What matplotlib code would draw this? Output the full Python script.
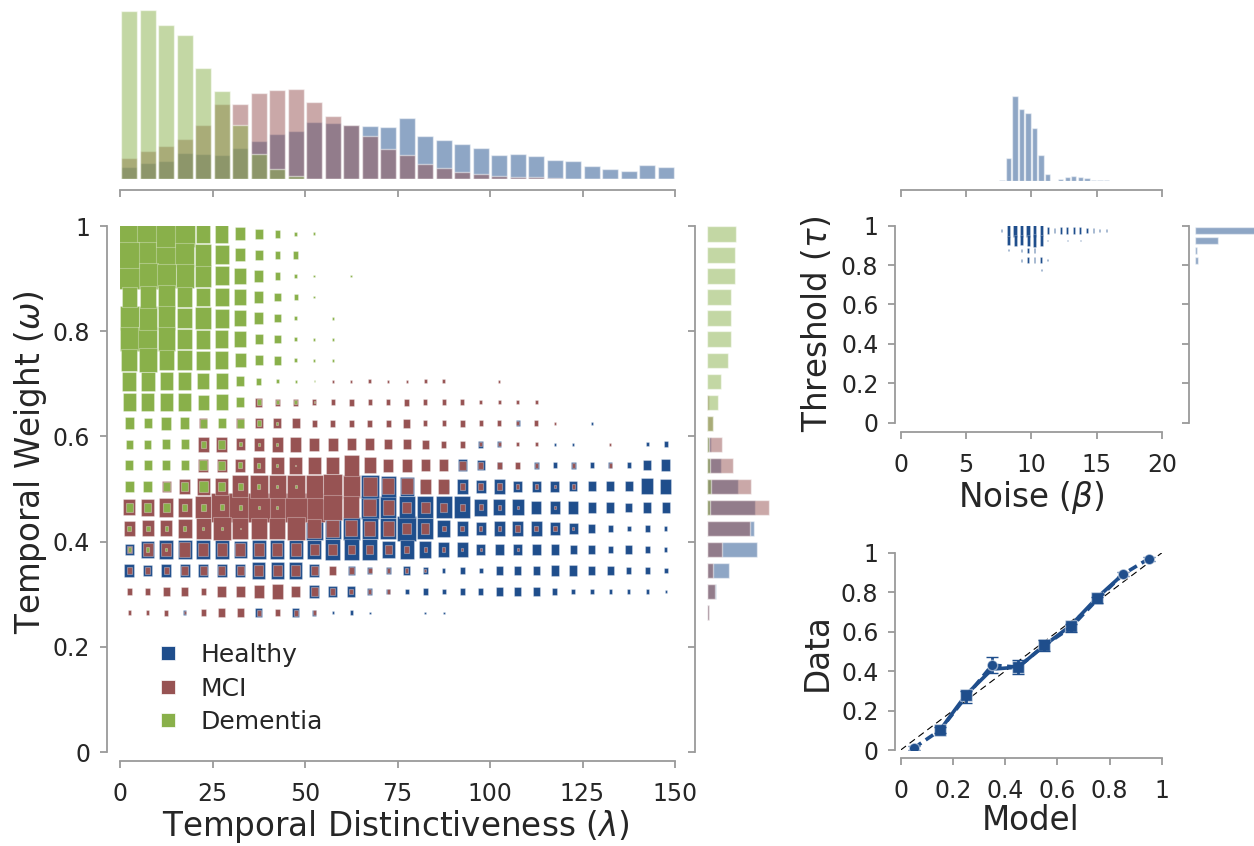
import numpy as np
import matplotlib
matplotlib.use('Agg')
import matplotlib.pyplot as plt
from matplotlib.lines import Line2D

# ------------------ data ------------------
# lambda bins (centres) and omega rows (top -> bottom)
lam_bins = np.arange(2.5, 150, 5)
omega_rows = [0.985, 0.945, 0.905, 0.865, 0.825, 0.785, 0.745, 0.705, 0.665, 0.625,
              0.585, 0.545, 0.505, 0.465, 0.425, 0.385, 0.345, 0.305, 0.265]

# cell sizes (marker width, px) per omega row, per lambda bin
dementia_sz = [
    [19,19,18,18,13,12,9,7,5,3,2] + [0]*19,
    [18,18,18,17,15,13,9,7,5,5] + [0]*20,
    [18,18,17,16,15,13,11,8,5,3,2,0,2] + [0]*17,
    [14,15,16,14,13,13,11,8,6,4,2] + [0]*19,
    [17,16,16,14,15,13,11,8,6,3,0,2] + [0]*18,
    [17,17,16,14,13,12,11,7,6,3,2,2] + [0]*18,
    [15,16,14,14,13,12,10,7,6,3,2,2] + [0]*18,
    [13,13,12,12,11,11,7,5,3,2,1] + [0]*19,
    [12,12,12,12,10,11,7,4,3,3,1] + [0]*19,
    [8,7,9,8,6,7,6,4,2] + [0]*21,
    [6,6,7,7,5,6,3,2,2] + [0]*21,
    [7,7,7,7,7,6,4,3,2,1] + [0]*20,
    [8,8,6,6,8,6,5,3,2,2] + [0]*20,
    [6,6,6,5,5,4,3,2,2] + [0]*21,
    [4,4,3,3,2,2,1] + [0]*23,
    [3,3,2] + [0]*27,
    [0]*30,
    [0]*30,
    [0]*30,
]
mci_sz = [
    [0]*30, [0]*30, [0]*30, [0]*30, [0]*30, [0]*30, [0]*30,
    [0]*11 + [2,2,3,2,2,3,3,0,0,2] + [0]*9,
    [0]*7 + [6,5,5,4,4,5,4,4,5,4,4,4,3,3,3,3] + [0]*7,
    [0]*4 + [7,5,7,7,7,7,5,5,5,5,5,6,4,4,5,4,4,3,4,2] + [0]*6,
    [0]*4 + [10,10,8,9,10,10,9,9,8,8,7,7,6,5,5,3,3,3,3,0,0,0,2] + [0]*3,
    [0]*4 + [9,9,9,11,12,12,12,12,14,11,9,9,8,8,6,5,5,5,3,0,3,0,3] + [0]*3,
    [0,0] + [8,10,12,12,15,16,16,16,16,17,16,13,11,11,10,10,5,5,5,3,3,2,3] + [0]*5,
    [11,12,13,13,15,20,20,20,20,20,20,17,15,12,10,8,8,6,5,4,3,2,0,2] + [0]*6,
    [10,11,11,13,14,16,15,15,15,16,13,12,11,10,10,8,7,4,4,3,3,5,4,4,2] + [0]*5,
    [5,9,9,10,9,9,9,9,9,9,8,8,6,6,6,5,3,3,2,2,0,2] + [0]*8,
    [5,5,5,6,6,6,6,8,8,8,6,6,5,4,3,3,2] + [0]*13,
    [5,5,6,6,5,8,8,9,10,8,6,5,4,3,3] + [0]*15,
    [3,3,4,2,5,6,6,4,5,4,3] + [0]*19,
]
healthy_sz = [
    [0]*30, [0]*30, [0]*30, [0]*30, [0]*30, [0]*30, [0]*30, [0]*30, [0]*30,
    [0]*21 + [4,0,0,0,2] + [0]*4,
    [0]*19 + [5,4,0,0,2,2,0,0,0,3,4],
    [0]*18 + [8,7,5,0,5,4,5,4,4,4,7,8],
    [0]*13 + [16,14,13,9,9,10,9,10,8,8,8,7,7,7,7,11,10],
    [0]*13 + [16,15,15,15,15,15,12,11,11,9,9,9,7,7,6,7,7],
    [0]*10 + [16,15,16,15,15,17,15,12,10,9,10,10,10,9,8,6,5,4,5,3],
    [8,12,13,13,13,13,12,13,13,13,13,14,14,14,12,13,11,10,10,8,8,8,8,7,6,6,5,6,5,3],
    [9,8,9,9,9,9,9,12,12,12,9,0,6,5,5,6,5,3,5,4,6,6,6,7,7,6,6,5,5,4],
    [0]*10 + [9,8,7,5,4,4,5,4,5,5,6,6,6,5,4,4,3,3,3,2],
    [0,0,0,3,0,0,0,6,0,6,4,2,3,1.5,0,0,1.5,1.5] + [0]*12,
]

# marginal histogram over lambda
lam_hist_healthy = [37, 48, 55, 79, 74, 72, 93, 113, 136, 144, 171, 168, 161, 160, 157,
                    183, 129, 116, 105, 93, 71, 74, 69, 58, 53, 38, 29, 24, 43, 37]
lam_hist_mci = [63, 84, 100, 121, 162, 225, 225, 259, 267, 270, 231, 188, 163, 129, 89,
                71, 45, 34, 21, 14, 9, 6, 6, 3, 0, 0, 0, 0, 0, 0]
lam_hist_dementia = [504, 507, 461, 432, 332, 264, 162, 76, 31, 9, 0, 0, 0, 0, 0,
                     0, 0, 0, 0, 0, 0, 0, 0, 0, 0, 0, 0, 0, 0, 0]

# marginal histogram over omega (top -> bottom)
om_hist_dementia = [88, 85, 85, 72, 72, 72, 64, 43, 33, 17, 7, 9, 13, 10, 1, 0, 0, 0, 0]
om_hist_mci = [0, 0, 0, 0, 0, 0, 0, 0, 7, 17, 46, 78, 130, 185, 127, 44, 18, 23, 5]
om_hist_healthy = [0, 0, 0, 0, 0, 0, 0, 0, 0, 0, 12, 41, 94, 143, 140, 148, 67, 28, 7]

# noise / threshold panel
beta_bins = [7.75, 8.25, 8.75, 9.25, 9.75, 10.25, 10.75, 11.25, 11.75, 12.25, 12.75,
             13.25, 13.75, 14.25, 14.75, 15.25, 15.75, 16.25]
beta_hist = [2, 69, 255, 215, 203, 158, 77, 20, 1, 7, 11, 15, 11, 8, 4, 2, 2, 0]
tau_rows = [0.975, 0.925, 0.875, 0.825, 0.775]
tau_sz = [
    [3.3, 11, 11, 11, 11, 11, 10, 6, 4, 6, 6.5, 6.5, 6, 5, 4, 3.3, 3.3, 1.7],
    [0, 8, 10, 9, 10, 12, 10, 1.7, 1.5, 1.5, 1.5, 1.5, 1.5, 0, 0, 0, 0, 0],
    [0, 1.5, 2, 3, 4.5, 4, 2, 0, 0, 0, 0, 0, 0, 0, 0, 0, 0, 0],
    [0, 0, 0, 3, 5, 5, 5, 2, 1.5, 0, 0, 0, 0, 0, 0, 0, 0, 0],
    [0, 0, 0, 0, 0, 0, 2.5, 0, 0, 0, 0, 0, 0, 0, 0, 0, 0, 0],
]
tau_hist = [190, 67, 6, 9]

# model vs data
model_x = [0.05, 0.15, 0.25, 0.35, 0.45, 0.55, 0.65, 0.75, 0.85, 0.95]
data_solid = [0.10, 0.28, 0.41, 0.42, 0.53, 0.63, 0.77, 0.89]
data_dashed = [0.01, 0.10, 0.27, 0.43, 0.42, 0.53, 0.62, 0.76, 0.89, 0.97]
data_err = [0.01, 0.015, 0.03, 0.04, 0.035, 0.03, 0.02, 0.015, 0.01, 0.01]

# ------------------ style ------------------
BLUE = '#1f4e8c'
RED = '#975353'
GREEN = '#89b04a'
SPINE = '#9a9a9a'
TXT = '#262626'
tick_fs = 17
lab_fs = 23.5

plt.rcParams['font.family'] = 'DejaVu Sans'
plt.rcParams['mathtext.fontset'] = 'dejavusans'
plt.rcParams['axes.edgecolor'] = SPINE
plt.rcParams['xtick.color'] = SPINE
plt.rcParams['ytick.color'] = SPINE
plt.rcParams['xtick.labelcolor'] = TXT
plt.rcParams['ytick.labelcolor'] = TXT
plt.rcParams['xtick.labelsize'] = tick_fs
plt.rcParams['ytick.labelsize'] = tick_fs

W, H = 1254, 846
fig = plt.figure(figsize=(W/100, H/100), dpi=100)


def box(x0, y0, x1, y1):
    return [x0/W, 1 - y1/H, (x1 - x0)/W, (y1 - y0)/H]


def style(ax, left=None, bottom=None):
    for s in ['top', 'right', 'left', 'bottom']:
        ax.spines[s].set_visible(False)
    if left is not None:
        ax.spines['left'].set_visible(True)
        ax.spines['left'].set_position(('outward', left))
        ax.spines['left'].set_linewidth(1.3)
    else:
        ax.set_yticks([])
    if bottom is not None:
        ax.spines['bottom'].set_visible(True)
        ax.spines['bottom'].set_position(('outward', bottom))
        ax.spines['bottom'].set_linewidth(1.3)
    else:
        ax.set_xticks([])
    ax.tick_params(axis='x', direction='out', length=5, width=1.3, pad=10)
    ax.tick_params(axis='y', direction='out', length=5, width=1.3, pad=7)


rect_main = [(-0.75, -1), (0.75, -1), (0.75, 1), (-0.75, 1), (-0.75, -1)]
rect_tau = [(-0.27, -1), (0.27, -1), (0.27, 1), (-0.27, 1), (-0.27, -1)]
unit_labels = ['0', '0.2', '0.4', '0.6', '0.8', '1']
unit_ticks = [0, 0.2, 0.4, 0.6, 0.8, 1]
edge = (1, 1, 1, 0.3)

# ------------------ main scatter ------------------
ax = fig.add_axes(box(120, 226, 675, 752))
for grid, col in [(healthy_sz, BLUE), (mci_sz, RED), (dementia_sz, GREEN)]:
    xs, ys, ss = [], [], []
    for r, om in enumerate(omega_rows):
        for k, lam in enumerate(lam_bins):
            w = grid[r][k]
            if w > 0:
                xs.append(lam)
                ys.append(om)
                ss.append((1.05*w)**2)
    order = np.argsort(ss)[::-1]
    ax.scatter(np.array(xs)[order], np.array(ys)[order], s=np.array(ss)[order],
               marker=rect_main, c=col, edgecolors=edge, linewidths=0.8)
ax.set_xlim(0, 150)
ax.set_ylim(0, 1)
style(ax, left=9.4, bottom=6.5)
ax.set_xticks([0, 25, 50, 75, 100, 125, 150])
ax.set_yticks(unit_ticks)
ax.set_yticklabels(unit_labels)
handles = [Line2D([], [], ls='none', marker='s', markersize=10, color=c, mec='white', mew=0.5)
           for c in [BLUE, RED, GREEN]]
fig.legend(handles, ['Healthy', 'MCI', 'Dementia'], loc='upper left',
           bbox_to_anchor=(139/W, 1 - 633/H), borderaxespad=0, frameon=False, fontsize=18,
           handlelength=1.5, handletextpad=0.55, labelspacing=0.38, labelcolor=TXT)
fig.text(396/W, 1 - 826/H, r'Temporal Distinctiveness ($\lambda$)', fontsize=lab_fs,
         color=TXT, ha='center', va='center')
fig.text(31/W, 1 - 462/H, r'Temporal Weight ($\omega$)', fontsize=lab_fs, color=TXT,
         ha='center', va='center', rotation=90)

# top histogram (lambda)
axt = fig.add_axes(box(120, 10, 675, 179))
bw = 4.2
axt.bar(lam_bins, lam_hist_healthy, width=bw, color=BLUE, alpha=0.5, edgecolor='white', lw=1)
axt.bar(lam_bins, lam_hist_mci, width=bw, color=RED, alpha=0.5, edgecolor='white', lw=1)
axt.bar(lam_bins, lam_hist_dementia, width=bw, color=GREEN, alpha=0.5, edgecolor='white', lw=1)
axt.set_xlim(0, 150)
axt.set_ylim(0, 507)
style(axt, bottom=8)
axt.set_xticks([0, 25, 50, 75, 100, 125, 150])
axt.set_xticklabels([])

# right histogram (omega)
axr = fig.add_axes(box(707, 226, 780, 752))
bh = 0.029
axr.barh(omega_rows, om_hist_healthy, height=bh, color=BLUE, alpha=0.5, edgecolor='white', lw=1)
axr.barh(omega_rows, om_hist_mci, height=bh, color=RED, alpha=0.5, edgecolor='white', lw=1)
axr.barh(omega_rows, om_hist_dementia, height=bh, color=GREEN, alpha=0.5, edgecolor='white', lw=1)
axr.set_ylim(0, 1)
axr.set_xlim(0, 218)
style(axr, left=8.6)
axr.set_yticks(unit_ticks)
axr.set_yticklabels([])

# ------------------ noise / threshold ------------------
axn = fig.add_axes(box(900.7, 225.7, 1162, 422.7))
xs, ys, ss = [], [], []
for r, tau in enumerate(tau_rows):
    for k, b in enumerate(beta_bins):
        h = tau_sz[r][k]
        if h > 0:
            xs.append(b)
            ys.append(tau)
            ss.append((0.8*h)**2)
axn.scatter(xs, ys, s=ss, marker=rect_tau, c=BLUE, edgecolors=edge, linewidths=0.6)
axn.set_xlim(0, 20)
axn.set_ylim(0, 1)
style(axn, left=4, bottom=6.5)
axn.set_xticks([0, 5, 10, 15, 20])
axn.set_yticks(unit_ticks)
axn.set_yticklabels(unit_labels)
fig.text(1031/W, 1 - 497/H, r'Noise ($\beta$)', fontsize=lab_fs, color=TXT,
         ha='center', va='center')
fig.text(817/W, 1 - 324/H, r'Threshold ($\tau$)', fontsize=lab_fs, color=TXT,
         ha='center', va='center', rotation=90)

axb = fig.add_axes(box(900.7, 96, 1162, 181))
axb.bar(beta_bins, beta_hist, width=0.41, color=BLUE, alpha=0.5, edgecolor='white', lw=1)
axb.set_xlim(0, 20)
axb.set_ylim(0, 255)
style(axb, bottom=6.5)
axb.set_xticks([0, 5, 10, 15, 20])
axb.set_xticklabels([])

axtau = fig.add_axes(box(1195, 225.7, 1254, 422.7))
axtau.barh(tau_rows[:4], tau_hist, height=0.036, color=BLUE, alpha=0.5, edgecolor='white', lw=1)
axtau.set_ylim(0, 1)
axtau.set_xlim(0, 172)
style(axtau, left=4.3)
axtau.set_yticks(unit_ticks)
axtau.set_yticklabels([])

# ------------------ model vs data ------------------
axc = fig.add_axes(box(900.7, 552.7, 1162, 750))
axc.plot([0, 1], [0, 1], color='k', lw=0.8, dashes=(6, 4), zorder=1)
axc.plot(model_x[1:9], data_solid, '-', color=BLUE, lw=2.6, marker='s', ms=8,
         mec=(1, 1, 1, 0.5), mew=1, markevery=[0, 1, 3, 4, 5, 6], zorder=3)
axc.errorbar(model_x, data_dashed, yerr=data_err, color=BLUE, lw=2.6, ls=(0, (2.5, 1.5)),
             marker='o', ms=7.5, mec=(1, 1, 1, 0.5), mew=1, capsize=4, capthick=2,
             elinewidth=2, markevery=[0, 3, 8, 9], zorder=4)
axc.set_xlim(0, 1)
axc.set_ylim(0, 1)
style(axc, left=4, bottom=5.8)
axc.set_xticks(unit_ticks)
axc.set_xticklabels(unit_labels)
axc.set_yticks(unit_ticks)
axc.set_yticklabels(unit_labels)
fig.text(1031/W, 1 - 820/H, 'Model', fontsize=lab_fs, color=TXT, ha='center', va='center')
fig.text(817/W, 1 - 652/H, 'Data', fontsize=lab_fs, color=TXT, ha='center', va='center',
         rotation=90)

fig.savefig('out.png', dpi=100)
